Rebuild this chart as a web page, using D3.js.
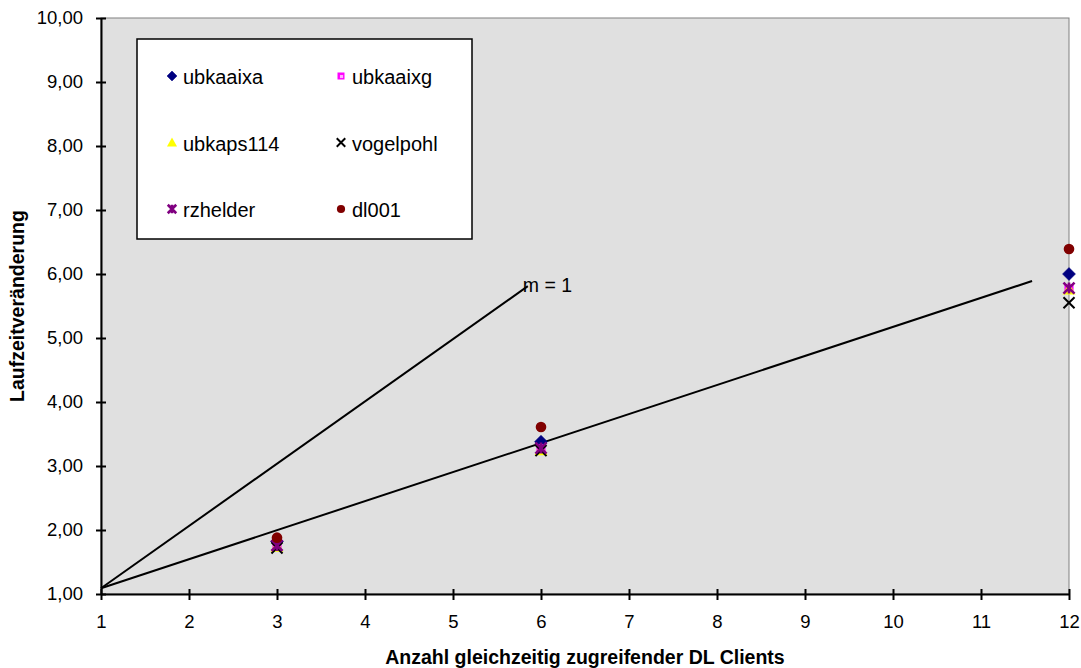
<!DOCTYPE html>
<html>
<head>
<meta charset="utf-8">
<script src="https://cdn.jsdelivr.net/npm/d3@7"></script>
<style>
  html, body { margin: 0; padding: 0; background: #ffffff; }
  svg { display: block; font-family: "Liberation Sans", Arial, sans-serif; }
</style>
</head>
<body>
<svg id="chart" width="1081" height="668"></svg>
<script>
// Number of simultaneous DL clients
const clients = [3, 6, 12];

// Runtime change per host
const ubkaaixa  = [1.82, 3.38, 6.00];
const ubkaaixg  = [1.75, 3.27, 5.77];
const ubkaps114 = [1.74, 3.25, 5.76];
const vogelpohl = [1.72, 3.24, 5.55];
const rzhelder  = [1.76, 3.28, 5.78];
const dl001     = [1.88, 3.61, 6.39];

const seriesNames = ["ubkaaixa", "ubkaaixg", "ubkaps114", "vogelpohl", "rzhelder", "dl001"];
const seriesValues = [ubkaaixa, ubkaaixg, ubkaps114, vogelpohl, rzhelder, dl001];

// Reference lines (start / end points)
const lineSlope1 = [[1, 1.09], [5.85, 5.81]];
const lineFit    = [[1, 1.09], [11.58, 5.89]];

const xTicks = [1, 2, 3, 4, 5, 6, 7, 8, 9, 10, 11, 12];
const yTicks = [1, 2, 3, 4, 5, 6, 7, 8, 9, 10];

const styles = {
  ubkaaixa:  { shape: "diamond",  color: "#000080" },
  ubkaaixg:  { shape: "square",   color: "#ff00ff" },
  ubkaps114: { shape: "triangle", color: "#ffff00" },
  vogelpohl: { shape: "x",        color: "#000000" },
  rzhelder:  { shape: "asterisk", color: "#800080" },
  dl001:     { shape: "circle",   color: "#800000" }
};

const svg = d3.select("#chart");
const plotL = 101, plotR = 1069, plotT = 18, plotB = 594;
const FONT = "Liberation Sans, Arial, sans-serif";

const x = d3.scaleLinear().domain([1, 12]).range([plotL, plotR]);
const y = d3.scaleLinear().domain([1, 10]).range([plotB, plotT]);

// plot area
svg.append("rect")
  .attr("x", plotL).attr("y", plotT)
  .attr("width", plotR - plotL).attr("height", plotB - plotT)
  .attr("fill", "#e0e0e0")
  .attr("stroke", "#808080").attr("stroke-width", 1);

// axes
const fmt = d => d.toFixed(2).replace(".", ",");
const yAxis = svg.append("g")
  .attr("transform", `translate(${plotL},0)`)
  .call(d3.axisLeft(y).tickValues(yTicks).tickFormat(fmt).tickSize(0).tickPadding(18));
yAxis.attr("font-size", 18.5).attr("font-family", FONT);
yAxis.select(".domain").attr("stroke", "#000").attr("stroke-width", 2);
yAxis.selectAll("text").attr("fill", "#000");
yAxis.selectAll(".tick").append("line")
  .attr("x1", -5).attr("x2", 5).attr("stroke", "#000").attr("stroke-width", 2);

const xAxis = svg.append("g")
  .attr("transform", `translate(0,${plotB})`)
  .call(d3.axisBottom(x).tickValues(xTicks).tickFormat(d3.format("d")).tickSize(0).tickPadding(21));
xAxis.attr("font-size", 18.5).attr("font-family", FONT);
xAxis.select(".domain").attr("stroke", "#000").attr("stroke-width", 2);
xAxis.selectAll("text").attr("fill", "#000");
xAxis.selectAll(".tick").append("line")
  .attr("y1", -5).attr("y2", 6).attr("stroke", "#000").attr("stroke-width", 2);

// axis titles
svg.append("text")
  .attr("x", (plotL + plotR) / 2).attr("y", 664)
  .attr("text-anchor", "middle").attr("font-size", 19.5).attr("font-weight", "bold")
  .text("Anzahl gleichzeitig zugreifender DL Clients");
svg.append("text")
  .attr("transform", `translate(24,${(plotT + plotB) / 2}) rotate(-90)`)
  .attr("text-anchor", "middle").attr("font-size", 19.5).attr("font-weight", "bold")
  .text("Laufzeitveränderung");

// reference lines
const line = d3.line().x(d => x(d[0])).y(d => y(d[1]));
[lineSlope1, lineFit].forEach(pts => {
  svg.append("path").attr("d", line(pts))
    .attr("fill", "none").attr("stroke", "#000").attr("stroke-width", 2);
});
svg.append("text")
  .attr("x", x(lineSlope1[1][0]) - 5).attr("y", y(lineSlope1[1][1]) + 6)
  .attr("font-size", 19.5).text("m = 1");

// marker drawing
function drawMarker(g, shape, color, cx, cy, s) {
  if (shape === "diamond") {
    g.append("path").attr("d", `M${cx},${cy - s}L${cx + s},${cy}L${cx},${cy + s}L${cx - s},${cy}Z`)
      .attr("fill", color).attr("stroke", color).attr("stroke-width", 0.5);
  } else if (shape === "square") {
    const h = s * 0.7;
    g.append("rect").attr("x", cx - h).attr("y", cy - h).attr("width", 2 * h).attr("height", 2 * h)
      .attr("fill", color);
    g.append("rect").attr("x", cx - h * 0.3).attr("y", cy - h * 0.3).attr("width", h * 0.9).attr("height", h * 0.9)
      .attr("fill", "#ffb0ff");
  } else if (shape === "triangle") {
    g.append("path").attr("d", `M${cx},${cy - s}L${cx + s},${cy + s * 0.8}L${cx - s},${cy + s * 0.8}Z`)
      .attr("fill", color);
  } else if (shape === "x") {
    const h = s * 0.85;
    g.append("path").attr("d", `M${cx - h},${cy - h}L${cx + h},${cy + h}M${cx - h},${cy + h}L${cx + h},${cy - h}`)
      .attr("stroke", color).attr("stroke-width", 2).attr("fill", "none");
  } else if (shape === "asterisk") {
    const h = s * 0.85;
    g.append("path").attr("d", `M${cx - h},${cy - h}L${cx + h},${cy + h}M${cx - h},${cy + h}L${cx + h},${cy - h}M${cx},${cy - h}L${cx},${cy + h}`)
      .attr("stroke", color).attr("stroke-width", 2.6).attr("fill", "none");
  } else if (shape === "circle") {
    g.append("circle").attr("cx", cx).attr("cy", cy).attr("r", s * 0.82).attr("fill", color);
  }
}

// data points
const pts = svg.append("g");
seriesNames.forEach((name, i) => {
  const st = styles[name];
  seriesValues[i].forEach((v, j) => {
    drawMarker(pts, st.shape, st.color, x(clients[j]), y(v), 6.5);
  });
});

// legend
const lg = svg.append("g");
lg.append("rect").attr("x", 137).attr("y", 39).attr("width", 335).attr("height", 200)
  .attr("fill", "#fff").attr("stroke", "#000").attr("stroke-width", 1.5);
seriesNames.forEach((name, i) => {
  const col = i % 2, row = Math.floor(i / 2);
  const mx = 172 + col * 169, my = 76 + row * 66.5;
  drawMarker(lg, styles[name].shape, styles[name].color, mx, my, 5);
  lg.append("text").attr("x", mx + 11).attr("y", my + 8)
    .attr("font-size", 20).text(name);
});
</script>
</body>
</html>
